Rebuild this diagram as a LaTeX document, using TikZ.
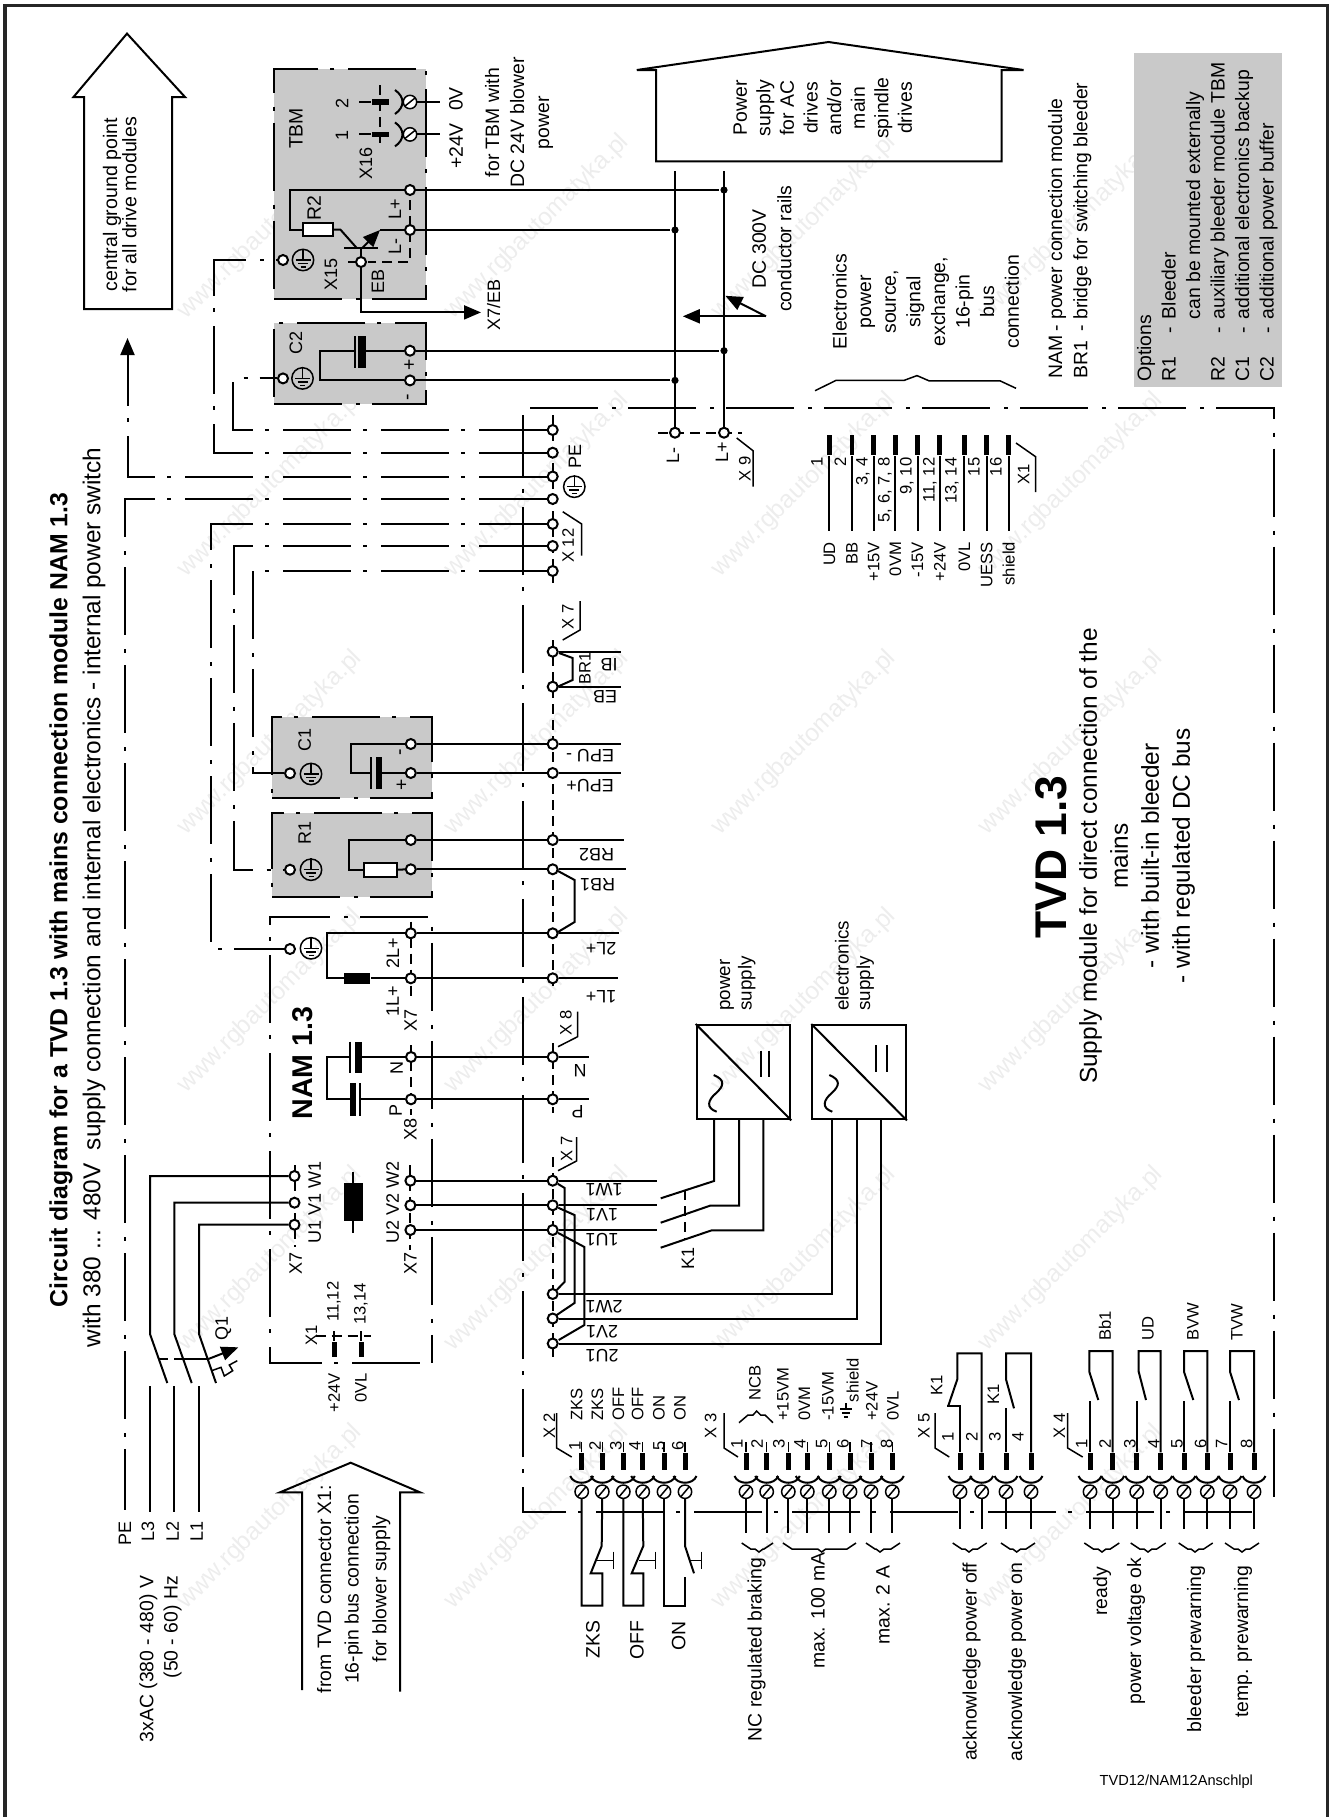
\documentclass[tikz,border=0pt]{standalone}
\usepackage{fontspec}
\setmainfont{Liberation Sans}
\usetikzlibrary{arrows.meta}
\definecolor{boxgray}{gray}{0.79}
\definecolor{stampgray}{gray}{0.93}
\newcommand\fmain{\fontsize{9.7}{11.6}\selectfont}
\newcommand\fmid{\fontsize{9}{11}\selectfont}
\newcommand\fsmall{\fontsize{8.3}{10}\selectfont}
\newcommand\earthmark[3]{
	\node[ring] (#1) at (#2,#3) {};
	\draw[thinw] (#1.north) -- (#1.center);
	\draw[thinw] ({#2-7.5},#3) -- ({#2+7.5},#3);
	\draw[thinw] ({#2-5},{#3+3.5}) -- ({#2+5},{#3+3.5});
	\draw[thinw] ({#2-2.5},{#3+7}) -- ({#2+2.5},{#3+7});
}
\newcommand\connpin[5]{
	\node[pinbar] (P#1#2) at (#3,1461.7) {};
	\node[screw] (S#1#2) at (#3,1491.7) {};
	\draw ({#3-11.5},1476) .. controls ({#3-8},1485) and ({#3+8},1485) .. ({#3+11.5},1476);
	\draw[thinw] ({#3-4},1496.5) -- ({#3+4},1487);
	\node[slbl] (N#1#2) at (#4,#5) {#2};
}
\newcommand\busbrace[3]{
	\draw[thinw] (#1,1543) -- ({#1+9},1549) -- ({#2-4},1549) -- (#2,1552) -- ({#2+4},1549) -- ({#3-9},1549) -- (#3,1543);
}
\newcommand\optline[2]{\makebox[24.3pt][l]{#1}\makebox[7pt][l]{-}#2}

\begin{document}
\begin{tikzpicture}[x=0.5pt,y=-0.5pt,line width=1pt]
	\tikzstyle{lbl}=[rotate=90,inner sep=0pt,font=\fmain]
	\tikzstyle{mlbl}=[lbl,font=\fmid]
	\tikzstyle{slbl}=[lbl,font=\fsmall]
	\tikzstyle{flbl}=[rotate=180,inner sep=0pt,font=\fmid]
	\tikzstyle{term}=[circle,draw,fill=white,minimum size=5pt,inner sep=0pt]
	\tikzstyle{railpt}=[circle,fill=black,minimum size=3.6pt,inner sep=0pt]
	\tikzstyle{ring}=[circle,draw,minimum size=10.7pt,inner sep=0pt,line width=0.75pt]
	\tikzstyle{screw}=[circle,draw,fill=white,minimum size=6.7pt,inner sep=0pt,line width=0.75pt]
	\tikzstyle{pinbar}=[fill=black,minimum width=2.5pt,minimum height=8.3pt,inner sep=0pt]
	\tikzstyle{thinw}=[line width=0.75pt]
	\tikzstyle{chainline}=[dash pattern=on 34pt off 7pt on 2pt off 6pt]
	\tikzstyle{shortdash}=[dash pattern=on 5pt off 3pt]
	\tikzstyle{optbox}=[fill=boxgray,draw,chainline,inner sep=0pt]
	\tikzstyle{resist}=[draw,fill=white,inner sep=0pt]
	\tikzstyle{stamp}=[rotate=45,anchor=east,inner sep=0pt,text=stampgray,font=\fontsize{12.4}{14}\selectfont]
	\tikzstyle{head}=[-{Triangle[length=8.5pt,width=7pt]}]

	\useasboundingbox (0,0) rectangle (1338,1817);
	\foreach \c in {1,...,4}{
		\foreach \r in {0,...,5}{
			\node[stamp] (wm-\c-\r) at ({92+267*\c},{138+258*\r}) {www.rgbautomatyka.pl};
		}
	}

	\draw[line width=1.6pt,black!85] (5,1817) -- (5,5.5) -- (1327.5,5.5) -- (1327.5,1817);

	\node[lbl,font=\bfseries\fontsize{12.4}{15}\selectfont] (title) at (61,900) {Circuit diagram for a TVD 1.3 with mains connection module NAM 1.3};
	\node[lbl,font=\fontsize{12.2}{15}\selectfont] (subtitle) at (94,897.5) {with 380 ... 480V\ \ supply connection and internal electronics - internal power switch};

	% grey option boxes
	\node[optbox,minimum width=76pt,minimum height=115pt] (TBMbox) at (350,183.5) {};
	\node[optbox,minimum width=76pt,minimum height=40.7pt] (C2box) at (350,363.3) {};
	\node[optbox,minimum width=80pt,minimum height=40.8pt] (C1box) at (352,757.5) {};
	\node[optbox,minimum width=80pt,minimum height=42pt] (R1box) at (352,854.7) {};
	\node[fill=boxgray,inner sep=0pt,minimum width=74.2pt,minimum height=167pt] (Optbox) at (1207.8,219.7) {};

	% module outlines
	\draw[chainline] (1252,1511.7) -- (522.7,1511.7) -- (522.7,415);
	\draw[chainline] (530,408.3) -- (1273.7,408.3) -- (1273.7,1503);
	\draw[chainline] (419.5,1363) -- (270,1363) -- (270,916.7) -- (432,916.7) -- (432,1363);

	% terminal strips
	\draw[shortdash] (552.7,415) -- (552.7,583);
	\draw[shortdash] (552.7,640) -- (552.7,990);
	\draw[shortdash] (552.7,1043) -- (552.7,1113);
	\draw[shortdash] (552.7,1157) -- (552.7,1357);
	\draw[shortdash] (411,921.7) -- (411,1000);
	\draw[shortdash] (411,1045) -- (411,1115);
	\draw[shortdash] (294.5,1165) -- (294.5,1246.7);
	\draw[shortdash] (410.4,1165) -- (410.4,1250);
	\draw[shortdash] (658,432.7) -- (741.7,432.7);
	\draw[shortdash] (410,184) -- (410,262) -- (367.5,262);
	\draw[shortdash] (380,85) -- (380,148);

	\foreach \n/\y in {g1/430,g2/452.7,g3/476.5,g4/499,g5/524,g6/546,g7/571,IB/651.7,EB/686.7,Em/744,Ep/773,Rb/840,Ra/869.3,La/933.3,Lb/978.3,N/1057,P/1099.3,W/1180.7,V/1205.3,U/1230,Wb/1294,Vb/1318.5,Ub/1343.5}{
		\node[term] (T\n) at (552.7,\y) {};
	}
	\foreach \n/\x/\y in {TBp/410/190,TBm/410/230,TBg/283/260,EBt/361/262,C2p/410/350.7,C2m/410/380.4,C2g/283/378.4,Lm/675/432.7,Lp/724/432.7,C1m/410.8/744,C1p/410.8/773,C1g/290/773.3,R1b/410.8/840,R1a/410.8/869.3,R1g/290/869.7,NMg/290/949,NLa/410.8/933.3,NLb/410.8/978.3,NN/411/1057,NP/411/1099.3,U1w/294.5/1176,U1v/294.5/1202.7,U1u/294.5/1224.7,U2w/410.4/1180.7,U2v/410.4/1205.3,U2u/410.4/1230}{
		\node[term] (\n) at (\x,\y) {};
	}
	\foreach \n/\x/\y in {Dp1/724/190,Dm1/675/230,Dp2/724/350.7,Dm2/675/380.4}{
		\node[railpt] (\n) at (\x,\y) {};
	}

	% earth lines
	\draw[chainline] (Tg1) -| (233,378.4) -- (C2g);
	\draw[chainline] (Tg2) -| (213.7,260) -- (TBg);
	\coordinate (gndtip) at (127.5,338);
	\draw[chainline,head] (Tg3) -| (gndtip);
	\coordinate (PEend) at (125,1510);
	\draw[chainline] (Tg4) -| (PEend);
	\draw[chainline] (Tg5) -| (211,949) -- (NMg);
	\draw[chainline] (Tg6) -| (233.5,869.7) -- (R1g);
	\draw[chainline] (Tg7) -| (253,773.3) -- (C1g);

	\earthmark{TBe}{303}{260}
	\earthmark{C2e}{302.5}{378.4}
	\earthmark{C1e}{311}{774}
	\earthmark{R1e}{311}{869.7}
	\earthmark{NMe}{311}{948.3}
	\earthmark{PEe}{574.3}{486.7}

	% rails and power house
	\draw (675,171) -- (Lm);
	\draw (724,171) -- (Lp);
	\draw (TBp) -- (Dp1);
	\draw (TBm) -- (Dm1);
	\draw (C2p) -- (Dp2);
	\draw (C2m) -- (Dm2);
	\draw (636.8,70) -- (656,70) -- (656,161.3) -- (1001.5,161.3) -- (1001.5,70) -- (1023.6,70) -- (828.5,42) -- cycle;
	\node[lbl,align=center,font=\fontsize{9.7}{11.8}\selectfont] (house) at (822.8,108) {Power\\supply\\for AC\\drives\\and/or\\main\\spindle\\drives};
	\node[lbl,align=center,font=\fontsize{9.7}{12.7}\selectfont] (railtxt) at (772,248.7) {DC 300V\\conductor rails};
	\coordinate (railmark) at (766,316.3);
	\coordinate (railp) at (725.4,295.8);
	\coordinate (railm) at (682.8,316.3);
	\draw[head] (railmark) -- (railm);
	\draw[head] (railmark) -- (railp);

	% TBM
	\node[lbl] (tTBM) at (296,128.5) {TBM};
	\node[resist,minimum width=15.2pt,minimum height=6.3pt] (R2r) at (317.7,229.7) {};
	\draw (TBp) -- (290,190) -- (290,229.7) -- (R2r);
	\draw (R2r) -- (340.5,229.7) -- (357,248.3);
	\draw (344,248.3) -- (378,248.3);
	\draw[head] (362,248.3) -- (380,230);
	\draw (380,230) -- (TBm);
	\draw (EBt) -- (361,248.3);
	\draw (348,262) -- (EBt);
	\coordinate (ebtip) at (481,312.4);
	\draw[head] (EBt) |- (ebtip);
	\foreach \n/\y/\t in {a/103.6/2,b/135.6/1}{
		\node[mlbl] (x16\n) at (342,\y) {\t};
	}
	\foreach \n/\y in {a/102,b/134.4}{
		\node[screw] (S16\n) at (410,\y) {};
		\draw ({395},{\y-12}) .. controls (405,{\y-5}) and (405,{\y+5}) .. (395,{\y+12});
		\draw[thinw] (405,{\y+4}) -- (415,{\y-4});
		\draw (S16\n) -- (440,\y);
		\node[fill=black,inner sep=0pt,minimum width=8.5pt,minimum height=2.6pt] (B16\n) at (380.5,\y) {};
		\draw (359,\y) -- (B16\n);
	}
	\node[mlbl] (tX16) at (366,163) {X16};
	\node[lbl] (t24) at (456,146) {+24V};
	\node[lbl] (t0V) at (456,99) {0V};
	\node[lbl,align=center,font=\fontsize{9.7}{12.5}\selectfont] (blower) at (519,122.6) {for TBM with\\DC 24V blower\\power};
	\node[mlbl] (tLp) at (395,209.6) {L+};
	\node[mlbl] (tLm) at (395,246) {L-};
	\node[lbl] (tR2) at (314,207.6) {R2};
	\node[mlbl] (tX15) at (331,274.8) {X15};
	\node[mlbl] (tEB) at (378,281.5) {EB};
	\node[mlbl] (tXEB) at (493.6,305) {X7/EB};

	% C2
	\node[mlbl] (tC2) at (296,342.8) {C2};
	\draw (C2m) -- (320,380.4) -- (320,350.7) -- (355,350.7);
	\draw (355,336) -- (355,367.7);
	\fill (358,336) rectangle (366,367.7);
	\draw (366,350.7) -- (C2p);
	\node[lbl] (tC2p) at (410,364.6) {+};
	\node[lbl] (tC2m) at (410,397.4) {-};

	% C1
	\node[mlbl] (tC1) at (304.7,740) {C1};
	\draw (C1m) -- (351.4,744) -- (351.4,773) -- (371,773);
	\draw (371,757) -- (371,789);
	\fill (375.5,757) rectangle (382,789);
	\draw (382,773) -- (C1p);
	\node[lbl] (tC1m) at (402.3,752.7) {-};
	\node[lbl] (tC1p) at (402.3,785) {+};
	\draw (C1m) -- (TEm) -- (621,744);
	\draw (C1p) -- (TEp) -- (621,773);

	% R1
	\node[mlbl] (tR1) at (304.7,833) {R1};
	\node[resist,minimum width=16.3pt,minimum height=7.3pt] (R1r) at (380.3,870) {};
	\draw (R1b) -- (348.8,840) -- (348.8,870) -- (R1r);
	\draw (R1r) -- (R1a);
	\draw (R1b) -- (TRb) -- (623.5,840);
	\draw (R1a) -- (TRa) -- (626,869.3);

	% NAM
	\node[lbl,font=\bfseries\fontsize{14.3}{16}\selectfont] (tNAM) at (303,1063) {NAM 1.3};
	\draw (NLa) -- (326.6,933.3) -- (326.6,978.3) -- (344,978.3);
	\node[fill=black,inner sep=0pt,minimum width=13pt,minimum height=5.6pt] (chokeL) at (357,978.3) {};
	\draw (chokeL) -- (NLb);
	\draw (NLa) -- (TLa) -- (618.6,933.3);
	\draw (NLb) -- (TLb) -- (618,978.3);
	\draw (NN) -- (362,1057);
	\fill (354.5,1041.7) rectangle (362,1073);
	\draw (349.5,1041.7) -- (349.5,1073);
	\draw (349.5,1057) -- (327.4,1057) -- (327.4,1099.3) -- (350,1099.3);
	\fill (350,1083) rectangle (356,1115.7);
	\draw (360,1083) -- (360,1115.7);
	\draw (360,1099.3) -- (NP);
	\draw (NN) -- (TN) -- (589,1057);
	\draw (NP) -- (TP) -- (589,1099.3);
	\node[mlbl] (tNb) at (396.6,1068) {N};
	\node[mlbl] (tPb) at (395.8,1110) {P};
	\node[mlbl] (tX8b) at (410.4,1129) {X8};
	\node[mlbl] (t2Lb) at (392.8,953) {2L+};
	\node[mlbl] (t1Lb) at (392.8,1001.7) {1L+};
	\node[mlbl] (tX7c) at (410.8,1020) {X7};
	\node[mlbl] (tU1) at (314.7,1202) {U1 V1 W1};
	\node[mlbl] (tU2) at (392.6,1202) {U2 V2 W2};
	\node[mlbl] (tX7a) at (295.7,1263) {X7};
	\node[mlbl] (tX7b) at (410.4,1263) {X7};
	\draw (353,1171.7) -- (353,1232.7);
	\fill (344.4,1182.7) rectangle (363,1221);
	\draw (U2w) -- (TW) -- (657.3,1180.7);
	\draw (U2v) -- (TV) -- (657.3,1205.3);
	\draw (U2u) -- (TU) -- (657.3,1230);

	% NAM X1
	\draw[shortdash] (315.5,1336) -- (370.9,1336);
	\draw (334,1331) -- (334,1341);
	\draw (361,1331) -- (361,1341);
	\fill (331.5,1341.7) rectangle (336.5,1356.7);
	\fill (358.5,1341.7) rectangle (363.5,1356.7);
	\node[slbl] (tX1n) at (311.5,1335) {X1};
	\node[slbl] (t1112) at (334,1301.7) {11,12};
	\node[slbl] (t1314) at (361,1304) {13,14};
	\node[slbl] (t24n) at (334,1393) {+24V};
	\node[slbl] (t0Vn) at (361,1388) {0VL};

	% mains
	\draw (U1w) -- (150,1176) -- (150,1334) -- (167.3,1383);
	\draw (U1v) -- (174.3,1202.7) -- (174.3,1334) -- (191.7,1383);
	\draw (U1u) -- (199,1224.7) -- (199,1334) -- (216,1383);
	\draw (150,1386) -- (150,1511.7);
	\draw (174.3,1386) -- (174.3,1511.7);
	\draw (199,1386) -- (199,1511.7);
	\draw[shortdash] (158.3,1359) -- (183,1359);
	\draw (183,1359) -- (208.3,1359);
	\draw[head] (208.3,1359) -- (238.3,1347.3);
	\draw[thinw] (211.7,1370.7) -- (221,1367.3) -- (224.3,1376) -- (232.7,1370.7) -- (229.3,1365) -- (237.3,1360.7);
	\node[mlbl] (tQ1) at (223.3,1328) {Q1};
	\foreach \n/\x in {PE/125,L3/148,L2/172.7,L1/196.7}{
		\node[mlbl,anchor=east] (t\n) at (\x,1520) {\n};
	}
	\node[lbl,align=right,anchor=east,font=\fontsize{9.7}{12.2}\selectfont] (tAC) at (160.5,1575) {3xAC (380 - 480) V\\(50 - 60) Hz};
	\draw (302,1690) -- (302,1492.3) -- (280,1492.3) -- (350.7,1462.7) -- (420,1492.3) -- (400,1492.3) -- (400,1691.7);
	\node[lbl,align=center,font=\fontsize{9.7}{13.8}\selectfont] (tX1bus) at (353.7,1589) {from TVD connector X1:\\16-pin bus connection\\for blower supply};

	% central ground arrow
	\draw (84,309) -- (84,97) -- (73.5,97) -- (127,33.6) -- (185,97) -- (172,97) -- (172,309) -- cycle;
	\node[lbl,align=center,font=\fontsize{9.8}{9.7}\selectfont] (tgnd) at (119.7,204.6) {central ground point\\for all drive modules};

	% X7 bridges
	\draw (TIB) -- (621,651.7);
	\draw (TEB) -- (621,686.7);
	\draw (559,653) -- (572.6,658) -- (572.6,680) -- (557,687);
	\draw (558,871) -- (574.6,880) -- (574.6,922) -- (558,932);
	\draw (TW) -- (564.7,1188) -- (564.7,1281.7) -- (556.7,1290);
	\draw (TV) -- (574.5,1215) -- (574.5,1303) -- (556.7,1315);
	\draw (TU) -- (584.4,1247) -- (584.4,1325) -- (558.7,1340);

	\node[flbl] (tEPm) at (590,756) {EPU -};
	\node[flbl] (tEPp) at (590,786) {EPU+};
	\node[flbl] (tRB2) at (596.7,855) {RB2};
	\node[flbl] (tRB1) at (597.5,884.3) {RB1};
	\node[flbl] (t2L) at (601,948.3) {2L+};
	\node[flbl] (t1L) at (601,996.7) {1L+};
	\node[flbl] (tN) at (580,1071) {N};
	\node[flbl] (tP) at (577.7,1111.7) {P};
	\node[flbl] (tIB) at (609,665) {IB};
	\node[flbl] (tEBf) at (605,696.7) {EB};
	\node[slbl] (tBR1) at (585,668) {BR1};
	\node[flbl] (t1W) at (604,1190) {1W1};
	\node[flbl] (t1V) at (602,1215) {1V1};
	\node[flbl] (t1U) at (602,1240) {1U1};
	\node[flbl] (t2W) at (604,1306.7) {2W1};
	\node[flbl] (t2V) at (602,1331.7) {2V1};
	\node[flbl] (t2U) at (602,1356) {2U1};
	\node[mlbl] (tPEb) at (575,456.7) {PE};
	\node[mlbl] (tLmb) at (673,455) {L-};
	\node[mlbl] (tLpb) at (722,452) {L+};

	% connector hooks
	\foreach \n/\xa/\ya/\xb/\yb/\xc/\yc/\lx/\ly/\t in {a/562.7/511.7/581.7/524/581.7/555.7/568/545.7/X 12,b/562.7/640/580/630/580/601/568/616.7/X 7,c/558/1046.7/577.6/1036.7/577.6/1011.7/566/1023/X 8,d/558/1170.7/576.5/1161/576.5/1137/566.6/1149/X 7,e/736.7/438/753/450.7/753/486.7/745/469/X 9,f/1016/443/1035.6/456.7/1035.6/492/1023.6/474.5/X1}{
		\draw[thinw] (\xa,\ya) -- (\xb,\yb) -- (\xc,\yc);
		\node[slbl] (hk\n) at (\lx,\ly) {\t};
	}
	\foreach \n/\xa/\xb/\lx/\t in {g/571.7/556.7/549.3/X 2,h/738/724/710.7/X 3,i/949.3/935/924/X 5,j/1082.7/1067.7/1059.3/X 4}{
		\draw[thinw] (\xa,1457) -- (\xb,1448) -- (\xb,1413);
		\node[slbl] (hk\n) at (\lx,1426) {\t};
	}

	% X1 bus
	\foreach \n/\x/\lx/\t/\s in {1/829.4/817/1/UD,2/852/840.4/2/BB,3/873.7/863/{3, 4}/+15V,4/895.4/885/{5, 6, 7, 8}/0VM,5/917.6/907/{9, 10}/-15V,6/939.7/930/{11, 12}/+24V,7/964.4/952/{13, 14}/0VL,8/986.6/974/15/UESS,9/1008.7/996/16/shield}{
		\node[pinbar,minimum width=2.3pt,minimum height=10pt] (BX\n) at (\x,445) {};
		\draw (BX\n) -- (\x,531);
		\node[slbl,anchor=east] (BN\n) at (\lx,456.7) {\t};
		\node[slbl,anchor=east] (BS\n) at (\x,541) {\s};
	}
	\draw[thinw] (815,390.7) -- (836,380.4) -- (904,380.4) -- (917,375.6) -- (929,380.8) -- (1000,380.8) -- (1016,388.3);
	\node[lbl,align=center,font=\fontsize{9.7}{12.3}\selectfont] (tbus) at (925.8,301.7) {Electronics\\power\\source,\\signal\\exchange,\\16-pin\\bus\\connection};
	\node[lbl,align=left,anchor=north west,font=\fontsize{9.7}{12.7}\selectfont] (tnote) at (1047,379.6) {\makebox[23.5pt][l]{NAM}- power connection module\\\makebox[23.5pt][l]{BR1}- bridge for switching bleeder};
	\node[lbl,align=left,anchor=north west,font=\fontsize{9.7}{12.25}\selectfont] (topt) at (1136,382.8) {Options\\\optline{R1}{Bleeder}\\\hspace*{31.3pt}can be mounted externally\\\optline{R2}{auxiliary bleeder module TBM}\\\optline{C1}{additional electronics backup}\\\optline{C2}{additional power buffer}};

	% converters
	\foreach \nm/\x in {pwr/695.7,ele/811.3}{
		\node[draw,anchor=north west,minimum width=46.8pt,minimum height=47.2pt,inner sep=0pt] (\nm) at (\x,1024) {};
		\draw (\nm.north west) -- (\nm.south east);
		\draw ({\x+18},1075) .. controls ({\x+30},1080) and ({\x+28},1086) .. ({\x+20.5},1093) .. controls ({\x+12},1100) and ({\x+10},1108) .. ({\x+21},1111.7);
	}
	\draw (760.7,1050.7) -- (760.7,1076.7);
	\draw (769,1050.7) -- (769,1076.7);
	\draw (875.7,1045) -- (875.7,1072.3);
	\draw (886.7,1045) -- (886.7,1072.3);
	\node[mlbl,align=left,anchor=north west,font=\fontsize{9.4}{10.7}\selectfont] (tpwr) at (719,1011.7) {power\\supply};
	\node[mlbl,align=left,anchor=north west,font=\fontsize{9.4}{10.7}\selectfont] (tele) at (834,1011.7) {electronics\\supply};
	\draw (660.7,1198.3) -- (714,1181) -- (714,1118.3);
	\draw (660.7,1222.7) -- (710,1205.7) -- (739,1205.7) -- (739,1118.3);
	\draw (660.7,1247.7) -- (711.7,1230.3) -- (763.3,1230.3) -- (763.3,1118.3);
	\draw[shortdash] (684.7,1190) -- (684.7,1238.3);
	\node[mlbl] (tK1a) at (688,1258) {K1};
	\draw (TWb) -| (832.3,1118.3);
	\draw (TVb) -| (856.7,1118.3);
	\draw (TUb) -| (881.3,1118.3);

	% X2
	\foreach \n/\x/\nx/\t in {1/581.7/575/ZKS,2/602.3/595/ZKS,3/623.3/616/OFF,4/642.7/635/OFF,5/664/659/ON,6/685/678/ON}{
		\connpin{X2}{\n}{\x}{\nx}{1446}
		\draw[thinw] (PX2\n) -- (\x,1441.7);
		\node[slbl,anchor=west] (SX2t\n) at ({\x-5},1421.7) {\t};
	}
	\draw (SX21) -- (581.7,1605.7) -- (602.3,1605.7) -- (602.3,1573.3) -- (590.7,1573.3) -- (601.7,1546) -- (SX22);
	\draw (SX23) -- (623.3,1605.7) -- (643.3,1605.7) -- (643.3,1573.3) -- (631.7,1573.3) -- (643.3,1546) -- (SX24);
	\draw (SX25) -- (664,1605.7) -- (685,1605.7) -- (685,1576.7);
	\draw (694,1573.3) -- (685,1546) -- (SX26);
	\foreach \a/\b in {596.7/613.3,639/655.7,690/701.7}{
		\draw[thinw] (\a,1560.7) -- (\b,1560.7);
		\draw[thinw] (\b,1551.7) -- (\b,1569.3);
	}
	\foreach \n/\x/\t in {a/593/ZKS,b/637/OFF,c/678.6/ON}{
		\node[lbl,anchor=east] (sw\n) at (\x,1620) {\t};
	}

	% X3
	\foreach \n/\x/\nx in {1/746/737,2/766.7/757,3/788.3/779,4/807.3/800,5/829.3/821.7,6/850/843,7/871/867,8/892.3/886.7}{
		\connpin{X3}{\n}{\x}{\nx}{1444}
		\draw[thinw] (PX3\n) -- (\x,1441.7);
		\draw (SX3\n) -- (\x,1533);
	}
	\draw[thinw] (739,1422.7) -- (748,1415) -- (753,1415) -- (756.7,1411) -- (760.7,1415) -- (765,1415) -- (773,1422.7);
	\node[slbl] (tNCB) at (755,1383) {NCB};
	\foreach \n/\x/\t in {a/783/+15VM,b/804.3/0VM,c/828/-15VM,d/871.7/+24V,e/893/0VL}{
		\node[slbl,anchor=west] (sg\n) at (\x,1421.7) {\t};
	}
	\node[slbl,anchor=west] (sgf) at (852.7,1403) {shield};
	\draw[thinw] (846,1403) -- (846,1409);
	\draw[thinw] (840,1409) -- (852,1409);
	\draw[thinw] (842,1413) -- (850,1413);
	\draw[thinw] (844,1417) -- (848,1417);

	% X5
	\foreach \n/\x/\nx in {1/960/948,2/981.7/971.7,3/1006/995,4/1031/1018}{
		\connpin{X5}{\n}{\x}{\nx}{1437}
		\draw (SX5\n) -- (\x,1529);
	}
	\draw (PX51) -- (960,1405.7) -- (946.7,1405.7);
	\draw (948.3,1405.7) -- (957.3,1379.3) -- (957.3,1353.3) -- (981.7,1353.3) -- (PX52);
	\draw (PX53) -- (1006,1408.3);
	\draw (1014,1408.3) -- (1006,1379.3) -- (1006,1353.3) -- (1031,1353.3) -- (PX54);
	\node[slbl] (tK1b) at (936.7,1385.7) {K1};
	\node[slbl] (tK1c) at (993.3,1394) {K1};

	% X4
	\foreach \n/\x/\nx in {1/1090/1081.7,2/1112.7/1105,3/1136.7/1130,4/1160.7/1154,5/1184/1177,6/1207.3/1200.7,7/1230/1221.7,8/1254/1246.7}{
		\connpin{X4}{\n}{\x}{\nx}{1444}
		\draw (SX4\n) -- (\x,1529);
	}
	\foreach \p/\q/\l/\r/\cx/\sx/\tx/\t in {1/2/1090/1112.7/1098.3/1089.3/1105/Bb1,3/4/1136.7/1160.7/1146/1138.7/1148/UD,5/6/1184/1207.3/1193.3/1184/1193/BVW,7/8/1230/1254/1239/1230/1237/TVW}{
		\draw (PX4\p) -- (\l,1401);
		\draw (\cx,1400) -- (\sx,1371.7) -- (\sx,1351) -- (\r,1351) -- (PX4\q);
		\node[slbl,anchor=west] (c\p) at (\tx,1341.7) {\t};
	}

	% signal braces and names
	\busbrace{741.7}{759}{773}
	\busbrace{783}{821.7}{856}
	\busbrace{866}{880}{900}
	\busbrace{952.7}{969}{986.7}
	\busbrace{1001}{1016.7}{1035}
	\busbrace{1084.3}{1102}{1119.3}
	\busbrace{1130.7}{1148}{1165.7}
	\busbrace{1178.7}{1195}{1212.7}
	\busbrace{1225}{1242}{1259}
	\foreach \n/\x/\y/\t in {a/756.7/1556.7/NC regulated braking,b/818/1551.7/max. 100 mA,c/883/1565/max. 2 A,d/971.7/1561.7/acknowledge power off,e/1017/1561.7/acknowledge power on,f/1102/1566/ready,g/1136/1556.7/power voltage ok,h/1196/1565/bleeder prewarning,i/1243/1565/temp. prewarning}{
		\node[lbl,anchor=east] (sn\n) at (\x,\y) {\t};
	}

	% module title
	\node[lbl,font=\bfseries\fontsize{22.2}{26}\selectfont] (tTVD) at (1051.7,857) {TVD 1.3};
	\node[lbl,align=center,font=\fontsize{12.2}{15.5}\selectfont] (tdesc) at (1137,856) {Supply module for direct connection of the\\mains\\- with built-in bleeder\\- with regulated DC bus};
	\node[inner sep=0pt,font=\fontsize{7.3}{9}\selectfont] (tref) at (1176.3,1782) {TVD12/NAM12Anschlpl};
\end{tikzpicture}
\end{document}
